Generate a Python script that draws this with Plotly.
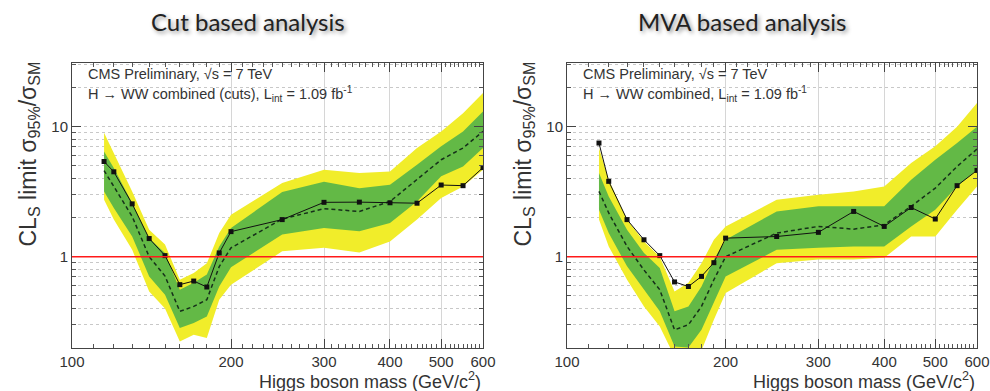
import plotly.graph_objects as go

# ---------------- data ----------------
mass = [115, 120, 130, 140, 150, 160, 170, 180, 190, 200, 250, 300, 350, 400, 450, 500, 550, 600]

# Cut based analysis
cut_obs = [5.4, 4.5, 2.55, 1.38, 1.02, 0.61, 0.65, 0.585, 1.07, 1.56, 1.93, 2.62, 2.63, 2.6, 2.58, 3.56, 3.52, 4.85]
cut_exp = [4.6, 3.47, 2.04, 1.0, 0.71, 0.38, 0.415, 0.467, 0.84, 1.17, 1.95, 2.34, 2.23, 2.66, 3.9, 5.57, 6.86, 9.2]
cut_g_hi = [6.46, 4.81, 2.59, 1.39, 1.07, 0.557, 0.63, 0.73, 1.2, 1.66, 3.15, 3.78, 3.37, 3.58, 5.1, 7.06, 9.2, 13.1]
cut_g_lo = [3.18, 2.37, 1.43, 0.706, 0.51, 0.283, 0.309, 0.347, 0.59, 0.83, 1.48, 1.66, 1.57, 1.82, 2.66, 4.15, 4.95, 6.86]
cut_y_hi = [9.0, 6.27, 3.18, 1.61, 1.24, 0.665, 0.75, 0.89, 1.52, 2.1, 3.69, 4.67, 4.4, 4.53, 6.86, 9.2, 12.7, 18.2]
cut_y_lo = [2.74, 1.93, 1.13, 0.54, 0.40, 0.223, 0.251, 0.237, 0.467, 0.61, 1.1, 1.17, 1.08, 1.31, 1.93, 2.83, 3.47, 4.67]

# MVA based analysis
mva_obs = [7.49, 3.8, 1.93, 1.35, 1.02, 0.64, 0.59, 0.706, 0.9, 1.39, 1.43, 1.54, 2.23, 1.71, 2.39, 1.95, 3.52, 4.61]
mva_exp = [3.18, 2.17, 1.2, 0.79, 0.557, 0.274, 0.3, 0.415, 0.665, 1.0, 1.52, 1.71, 1.63, 1.76, 2.44, 3.37, 4.95, 6.73]
mva_g_hi = [4.4, 2.91, 1.61, 1.07, 0.82, 0.38, 0.415, 0.59, 0.95, 1.35, 2.23, 2.44, 2.44, 2.44, 3.91, 5.57, 7.49, 10.0]
mva_g_lo = [2.3, 1.52, 0.843, 0.557, 0.38, 0.204, 0.2, 0.274, 0.44, 0.706, 1.13, 1.17, 1.2, 1.2, 1.71, 2.3, 3.47, 4.67]
mva_y_hi = [6.86, 3.91, 1.93, 1.31, 1.0, 0.54, 0.63, 0.89, 1.35, 1.71, 2.74, 3.0, 3.18, 3.47, 5.26, 7.06, 10.0, 15.2]
mva_y_lo = [1.93, 1.2, 0.665, 0.415, 0.291, 0.17, 0.17, 0.19, 0.328, 0.525, 0.89, 0.95, 0.95, 0.98, 1.43, 1.43, 2.3, 3.47]

panel_titles = ["Cut based analysis", "MVA based analysis"]
line1 = "CMS Preliminary, \u221as = 7 TeV"
line2 = ["H \u2192 WW combined (cuts), L<sub>int</sub> = 1.09 fb<sup>-1</sup>",
         "H \u2192 WW combined, L<sub>int</sub> = 1.09 fb<sup>-1</sup>"]
x_major = [100, 200, 300, 400, 500, 600]
x_minor = [m for m in range(110, 600, 10) if m not in x_major]
y_major = [1, 10]
y_minor = [0.2, 0.3, 0.4, 0.5, 0.6, 0.7, 0.8, 0.9, 2, 3, 4, 5, 6, 7, 8, 9, 20, 30]

# ---------------- style ----------------
W, H = 990, 391
YELLOW = "#f1ed2a"
GREEN = "#63b946"
FONT = "Liberation Sans, Arial, sans-serif"

panels = [
    dict(obs=cut_obs, exp=cut_exp, ghi=cut_g_hi, glo=cut_g_lo, yhi=cut_y_hi, ylo=cut_y_lo,
         x0=72, x1=483),
    dict(obs=mva_obs, exp=mva_exp, ghi=mva_g_hi, glo=mva_g_lo, yhi=mva_y_hi, ylo=mva_y_lo,
         x0=567, x1=977),
]
top_px, bot_px = 63, 348

fig = go.Figure()
annotations = []
shapes = []
layout = dict(width=W, height=H, margin=dict(l=0, r=0, t=0, b=0, autoexpand=False),
              paper_bgcolor="white", plot_bgcolor="white", showlegend=False,
              font=dict(family=FONT, color="#333"))

for i, p in enumerate(panels):
    sfx = "" if i == 0 else str(i + 1)
    xa, ya = "x" + sfx, "y" + sfx
    fig.add_trace(go.Scatter(x=mass + mass[::-1], y=p["yhi"] + p["ylo"][::-1], xaxis=xa, yaxis=ya,
                             fill="toself", fillcolor=YELLOW, line=dict(width=0), mode="lines",
                             hoverinfo="skip"))
    fig.add_trace(go.Scatter(x=mass + mass[::-1], y=p["ghi"] + p["glo"][::-1], xaxis=xa, yaxis=ya,
                             fill="toself", fillcolor=GREEN, line=dict(width=0), mode="lines",
                             hoverinfo="skip"))
    fig.add_trace(go.Scatter(x=mass, y=p["exp"], xaxis=xa, yaxis=ya, mode="lines",
                             line=dict(color="#16301a", width=1.5, dash="4px,3px")))
    fig.add_trace(go.Scatter(x=mass, y=p["obs"], xaxis=xa, yaxis=ya, mode="lines+markers",
                             line=dict(color="#111", width=1.0),
                             marker=dict(symbol="square", size=5, color="#111")))
    shapes.append(dict(type="line", xref=xa + " domain", x0=0, x1=1, yref=ya, y0=1, y1=1,
                       line=dict(color="#ff1a1a", width=1.5), layer="above"))

    dom_x = [p["x0"] / W, p["x1"] / W]
    dom_y = [1 - bot_px / H, 1 - top_px / H]
    layout["xaxis" + sfx] = dict(
        type="log", range=[2, 2.77815], domain=dom_x, anchor=ya, automargin=False,
        tickmode="array", tickvals=x_major, ticktext=[str(v) for v in x_major],
        ticks="inside", ticklen=9, tickcolor="#444", showline=True, linecolor="#444",
        linewidth=1, mirror="allticks",
        showgrid=True, gridcolor="#d6d6d6", gridwidth=1,
        tickfont=dict(size=15, color="#333", family=FONT),
        minor=dict(tickmode="array", tickvals=x_minor, ticks="inside", ticklen=4,
                   tickcolor="#555", showgrid=False),
        zeroline=False, fixedrange=True,
    )
    layout["yaxis" + sfx] = dict(
        type="log", range=[-0.702, 1.49], domain=dom_y, anchor=xa, automargin=False,
        tickmode="array", tickvals=y_major, ticktext=[str(v) for v in y_major],
        ticks="inside", ticklen=9, tickcolor="#444", showline=True, linecolor="#444",
        linewidth=1, mirror="allticks",
        showgrid=True, gridcolor="#c8c8c8", griddash="dot", gridwidth=1,
        tickfont=dict(size=15, color="#333", family=FONT),
        minor=dict(tickmode="array", tickvals=y_minor, ticks="inside", ticklen=4,
                   tickcolor="#555", showgrid=True, gridcolor="#c8c8c8", griddash="dot"),
        zeroline=False, fixedrange=True,
    )

    cx = (p["x0"] + p["x1"]) / 2 - 30
    annotations.append(dict(text=panel_titles[i], x=cx / W, y=1 - 22 / H, xref="paper", yref="paper",
                            showarrow=False, xanchor="center", yanchor="middle",
                            font=dict(family="Lato, Noto Sans, sans-serif", size=24, color="#222",
                                      shadow="2px 2px 4px rgba(0,0,0,0.45)")))
    annotations.append(dict(text=line1, x=(p["x0"] + 14) / W, y=1 - 74 / H, xref="paper", yref="paper",
                            showarrow=False, xanchor="left", yanchor="middle",
                            font=dict(family=FONT, size=14.5, color="#333")))
    annotations.append(dict(text=line2[i], x=(p["x0"] + 14) / W, y=1 - 94 / H, xref="paper", yref="paper",
                            showarrow=False, xanchor="left", yanchor="middle",
                            font=dict(family=FONT, size=14.5, color="#333")))
    annotations.append(dict(text="CL<sub>S</sub> limit \u03c3<sub>95%</sub>/\u03c3<sub>SM</sub>",
                            x=(p["x0"] - 43) / W, y=1 - 60 / H, xref="paper", yref="paper",
                            showarrow=False, textangle=-90, xanchor="center", yanchor="top",
                            font=dict(family=FONT, size=23, color="#333")))
    annotations.append(dict(text="Higgs boson mass (GeV/c<sup>2</sup>)",
                            x=p["x1"] / W, y=1 - 380 / H, xref="paper", yref="paper",
                            showarrow=False, xanchor="right", yanchor="middle",
                            font=dict(family=FONT, size=18, color="#333")))

layout["annotations"] = annotations
layout["shapes"] = shapes
fig.update_layout(**layout)
fig.write_html("out.html", config={"displayModeBar": False},
               post_script="document.body.style.margin='0';document.body.style.overflow='hidden';")
